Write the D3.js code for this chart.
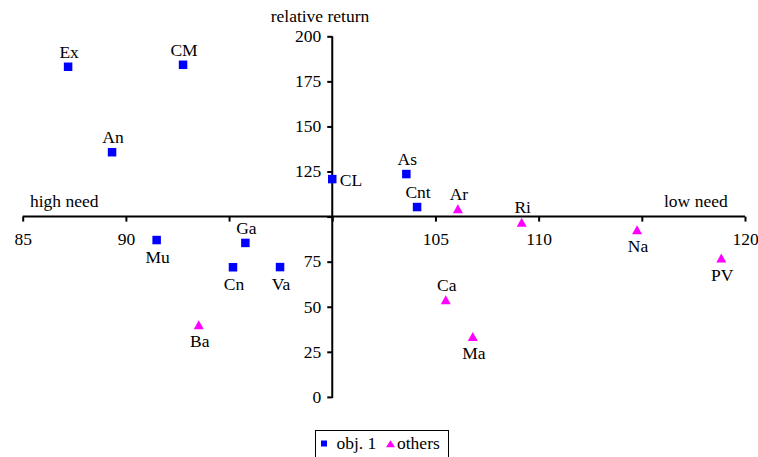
<!DOCTYPE html>
<html><head><meta charset="utf-8">
<script src="https://cdn.jsdelivr.net/npm/d3@7"></script>
</head>
<body style="margin:0;background:#fff">
<svg id="c" width="758" height="457"></svg>
<script>
// Data
const obj1Names = ["Ex","CM","An","CL","As","Cnt","Mu","Ga","Cn","Va"];
const obj1Need = [87.20, 92.77, 89.33, 100.0, 103.59, 104.11, 91.49, 95.79, 95.19, 97.47];
const obj1Return = [183.1, 184.2, 135.7, 120.8, 123.6, 105.3, 87.0, 85.4, 71.9, 72.0];
const obj1LabelSide = ["above","above","above","right","above","above","below","above","below","below"];

const otherNames = ["Ar","Ri","Na","PV","Ba","Ca","Ma"];
const otherNeed = [106.09, 109.18, 114.77, 118.85, 93.53, 105.50, 106.81];
const otherReturn = [104.3, 96.9, 92.7, 77.0, 40.0, 53.9, 33.5];
const otherLabelSide = ["above","above","below","below","below","above","below"];

const xTicks = [85, 90, 95, 100, 105, 110, 115, 120];
const xTickLabels = ["85", "90", "", "", "105", "110", "", "120"];
const yTicks = [0, 25, 50, 75, 100, 125, 150, 175, 200];
const yTickLabels = ["0", "25", "50", "75", "", "125", "150", "175", "200"];
const seriesNames = ["obj. 1", "others"];

const BLUE = "#0000ff", MAGENTA = "#ff00ff";
const FS = 17.5;
const FONT = "Liberation Serif";

const svg = d3.select("#c");
const x = d3.scaleLinear().domain([85, 120]).range([22.7, 745]);
const y = d3.scaleLinear().domain([0, 200]).range([396.9, 36.3]);

// axes
const xAxis = d3.axisBottom(x).tickValues(xTicks).tickSize(5)
  .tickFormat((d, i) => xTickLabels[i]);
const gx = svg.append("g").attr("transform", `translate(0,${y(100)})`).call(xAxis)
  .attr("font-family", FONT).attr("font-size", FS);
gx.select(".domain").attr("stroke", "#000").attr("stroke-width", 2).attr("d", `M${x(85)},0H${x(120)}`);
gx.selectAll(".tick line").attr("stroke", "#000").attr("stroke-width", 2);
gx.selectAll(".tick text").attr("y", 28).attr("dy", 0).attr("fill", "#000");

const yAxis = d3.axisLeft(y).tickValues(yTicks).tickSize(5).tickPadding(6)
  .tickFormat((d, i) => yTickLabels[i]);
const gy = svg.append("g").attr("transform", `translate(${x(100)},0)`).call(yAxis)
  .attr("font-family", FONT).attr("font-size", FS);
gy.select(".domain").attr("stroke", "#000").attr("stroke-width", 2).attr("d", `M0,${y(200)}V${y(0)+1}`);
gy.selectAll(".tick line").attr("stroke", "#000").attr("stroke-width", 2);
gy.selectAll(".tick text").attr("dy", "0.3em").attr("fill", "#000");

const txt = (sel) => sel.attr("font-family", FONT).attr("font-size", FS).attr("fill", "#000");

// titles
svg.append("text").attr("x", 320).attr("y", 22).attr("text-anchor", "middle").call(txt).text("relative return");
svg.append("text").attr("x", 30).attr("y", 207).call(txt).text("high need");
svg.append("text").attr("x", 664).attr("y", 207).call(txt).text("low need");

// markers
const sq = 8.5;
const triW = 10, triH = 9;
const triPath = (w, h) => `M0,${-h/2}L${w/2},${h/2}L${-w/2},${h/2}Z`;

const obj1 = obj1Names.map((n, i) => ({name: n, nx: obj1Need[i], ry: obj1Return[i], side: obj1LabelSide[i]}));
const others = otherNames.map((n, i) => ({name: n, nx: otherNeed[i], ry: otherReturn[i], side: otherLabelSide[i]}));

svg.append("g").selectAll("rect").data(obj1).join("rect")
  .attr("x", d => x(d.nx) - sq/2).attr("y", d => y(d.ry) - sq/2)
  .attr("width", sq).attr("height", sq).attr("fill", BLUE);

svg.append("g").selectAll("path").data(others).join("path")
  .attr("transform", d => `translate(${x(d.nx)},${y(d.ry)})`)
  .attr("d", triPath(triW, triH)).attr("fill", MAGENTA);

function addLabels(data) {
  svg.append("g").selectAll("text").data(data).join("text")
    .call(txt)
    .attr("text-anchor", d => d.side === "right" ? "start" : "middle")
    .attr("x", d => d.side === "right" ? x(d.nx) + 7.5 : x(d.nx) + 1)
    .attr("y", d => d.side === "above" ? y(d.ry) - 9 : d.side === "below" ? y(d.ry) + 22.5 : y(d.ry) + 7)
    .text(d => d.name);
}
addLabels(obj1);
addLabels(others);

// legend
const lg = svg.append("g");
lg.append("rect").attr("x", 315.5).attr("y", 430.5).attr("width", 133).attr("height", 40)
  .attr("fill", "#fff").attr("stroke", "#000").attr("stroke-width", 1);
lg.append("rect").attr("x", 321).attr("y", 440.5).attr("width", 6).attr("height", 6).attr("fill", BLUE);
lg.append("text").attr("x", 336.5).attr("y", 448.5).call(txt).text(seriesNames[0]);
lg.append("path").attr("transform", "translate(390.5,443.7)").attr("d", triPath(9, 7)).attr("fill", MAGENTA);
lg.append("text").attr("x", 397).attr("y", 448.5).call(txt).text(seriesNames[1]);
</script></body></html>
